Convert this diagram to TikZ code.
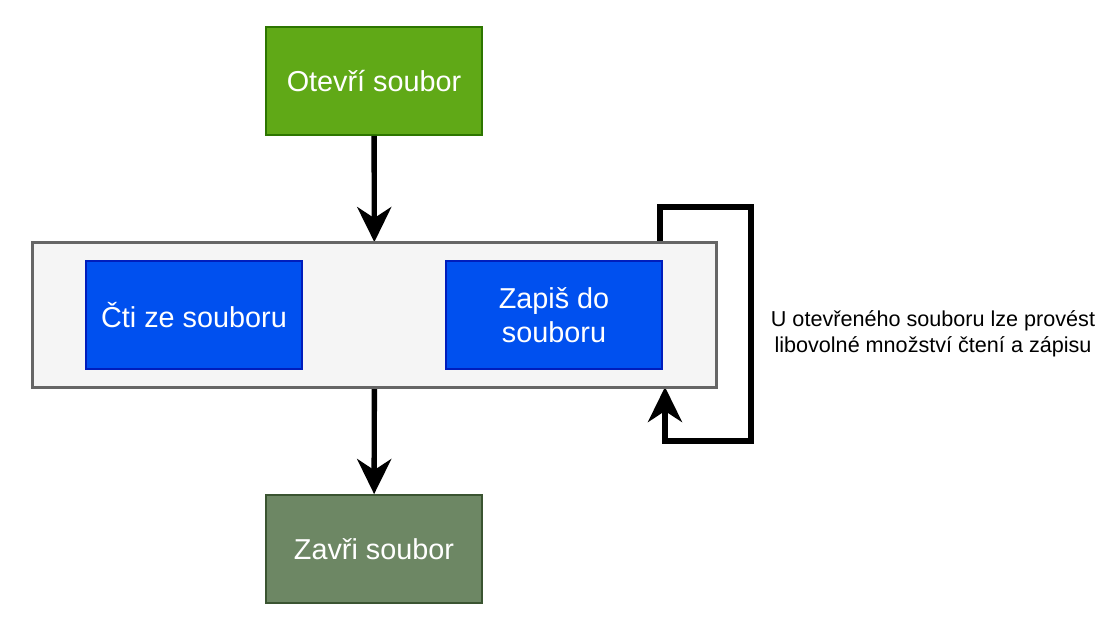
\documentclass[tikz,border=0pt]{standalone}
\usepackage{fontspec}
\setmainfont{Liberation Sans}
\usetikzlibrary{arrows.meta}
\definecolor{openfill}{HTML}{60A917}
\definecolor{opendraw}{HTML}{2D7600}
\definecolor{contfill}{HTML}{F5F5F5}
\definecolor{contdraw}{HTML}{666666}
\definecolor{bluefill}{HTML}{0050EF}
\definecolor{bluedraw}{HTML}{001DBC}
\definecolor{closefill}{HTML}{6D8764}
\definecolor{closedraw}{HTML}{3A5431}
\tikzset{
  boxbase/.style={rectangle, minimum width=216pt, minimum height=108pt, inner sep=0pt, line width=1.8pt, text=white, align=center,
    font=\fontsize{28.8}{34.5}\selectfont},
  openbox/.style={boxbase, fill=openfill, draw=opendraw},
  bluebox/.style={boxbase, fill=bluefill, draw=bluedraw},
  closebox/.style={boxbase, fill=closefill, draw=closedraw},
  contbox/.style={rectangle, minimum width=683pt, minimum height=144pt, inner sep=0pt, line width=1.8pt, fill=contfill, draw=contdraw},
  flow/.style={line width=5.4pt, -{Stealth[length=35pt, width=34pt, inset=11pt]}},
  loopline/.style={line width=5.4pt},
  note/.style={font=\fontsize{21.6}{26}\selectfont, align=center, text=black}
}
\begin{document}
\begin{tikzpicture}[x=1pt, y=-1pt]
  \useasboundingbox (0,0) rectangle (1108,628);
  \node[openbox] (open) at (374,81) {Otevří soubor};
  \node[contbox] (cont) at (374.5,315) {};
  \node[bluebox] (read) at (194,315) {Čti ze souboru};
  \node[bluebox] (write) at (554,315) {Zapiš do\\souboru};
  \node[closebox] (close) at (374,549) {Zavři soubor};
  \node[note] (label) at (933,334) {U otevřeného souboru lze provést\\libovolné množství čtení a zápisu};
  \draw[flow] (open) -- (cont);
  \draw[flow] (cont) -- (close);
  \coordinate (ls) at (660,243);
  \coordinate (le) at (665,387);
  \draw[loopline] (ls) -- (660,207) -- (751,207) -- (751,441) -- (665,441) -- (665,420);
  \draw[flow] (665,443.7) -- (le);
  \draw[line width=1.8pt, draw=contdraw] (cont.north west) rectangle (cont.south east);
\end{tikzpicture}
\end{document}
